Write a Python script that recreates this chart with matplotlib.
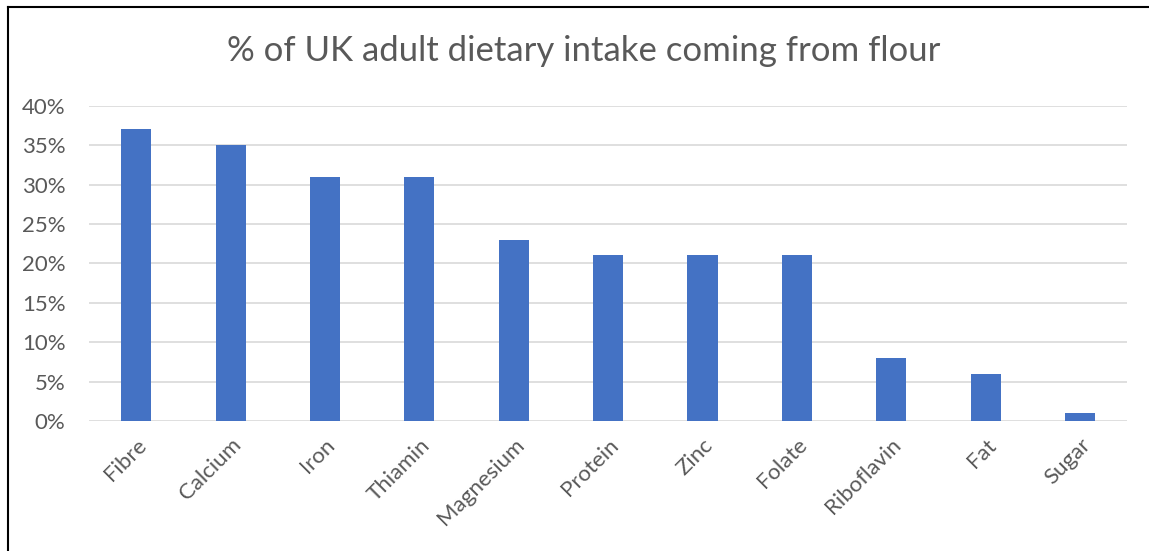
import numpy as np
import matplotlib.pyplot as plt
from matplotlib.lines import Line2D
from matplotlib.ticker import PercentFormatter

nutrients = ['Fibre', 'Calcium', 'Iron', 'Thiamin', 'Magnesium', 'Protein',
             'Zinc', 'Folate', 'Riboflavin', 'Fat', 'Sugar']
share = [0.37, 0.35, 0.31, 0.31, 0.23, 0.21, 0.21, 0.21, 0.08, 0.06, 0.01]
yticks = [0, 0.05, 0.10, 0.15, 0.20, 0.25, 0.30, 0.35, 0.40]

plt.rcParams['font.family'] = ['Lato', 'DejaVu Sans']
grey = '#595959'

fig = plt.figure(figsize=(11.49, 5.51), dpi=100)
ax = fig.add_axes([0.0775, 0.236, 0.9035, 0.572])

x = np.arange(len(nutrients))
ax.bar(x, share, width=0.32, color='#4472C4', zorder=3)
ax.set_xlim(-0.5, len(nutrients) - 0.5)
ax.set_ylim(0, 0.40)
ax.set_yticks(yticks)
ax.yaxis.set_major_formatter(PercentFormatter(1.0, decimals=0))
ax.set_xticks(x)
ax.set_xticklabels(nutrients, rotation=45, ha='right', rotation_mode='anchor')
ax.tick_params(axis='both', length=0, labelsize=16, colors=grey)
ax.tick_params(axis='y', pad=17)
ax.tick_params(axis='x', pad=10)
ax.grid(axis='y', color='#d9d9d9', linewidth=1.2, zorder=0)
for s in ax.spines.values():
    s.set_visible(False)

fig.text(0.508, 0.907, '% of UK adult dietary intake coming from flour',
         ha='center', va='center', fontsize=25, color=grey)

# border on top and left, as in the reference
fig.add_artist(Line2D([0.007, 1.0], [0.987, 0.987], color='black', linewidth=1.5))
fig.add_artist(Line2D([0.007, 0.007], [0.0, 0.987], color='black', linewidth=1.5))

plt.savefig('out.png', dpi=100)
